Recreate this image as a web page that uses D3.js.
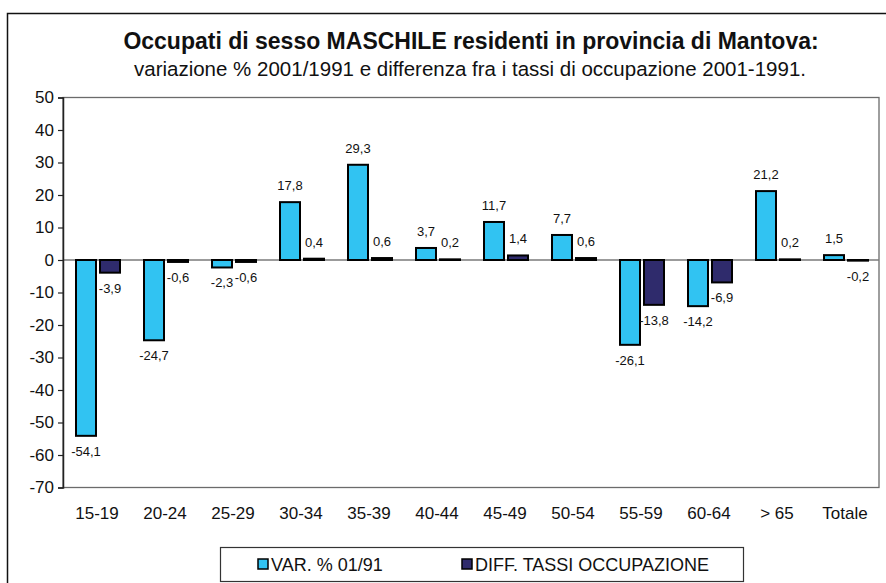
<!DOCTYPE html>
<html>
<head>
<meta charset="utf-8">
<script src="https://cdn.jsdelivr.net/npm/d3@7"></script>
<style>
  html, body { margin: 0; padding: 0; background: #fff; }
  svg { display: block; font-family: "Liberation Sans", Arial, Helvetica, sans-serif; }
</style>
</head>
<body>
<svg id="chart" width="886" height="583"></svg>
<script>
// Age classes on the x axis
const categories = ["15-19", "20-24", "25-29", "30-34", "35-39", "40-44", "45-49", "50-54", "55-59", "60-64", "> 65", "Totale"];
// Series: % change 2001/1991 and difference in employment rates
const seriesNames = ["VAR. % 01/91", "DIFF. TASSI OCCUPAZIONE"];
const varPct = [-54.1, -24.7, -2.3, 17.8, 29.3, 3.7, 11.7, 7.7, -26.1, -14.2, 21.2, 1.5];
const diffTassi = [-3.9, -0.6, -0.6, 0.4, 0.6, 0.2, 1.4, 0.6, -13.8, -6.9, 0.2, -0.2];
const yTicks = [50, 40, 30, 20, 10, 0, -10, -20, -30, -40, -50, -60, -70];
const colors = ["#31c3f2", "#2f2b6c"];

const svg = d3.select("#chart");

// outer frame
svg.append("rect")
  .attr("x", 7.5).attr("y", 13.5).attr("width", 900).attr("height", 600)
  .attr("fill", "none").attr("stroke", "#111").attr("stroke-width", 1.5);

// titles
svg.append("text")
  .attr("x", 471).attr("y", 49).attr("text-anchor", "middle")
  .attr("font-size", 23).attr("font-weight", "bold").attr("fill", "#111")
  .text("Occupati di sesso MASCHILE residenti in provincia di Mantova:");
svg.append("text")
  .attr("x", 470).attr("y", 76).attr("text-anchor", "middle")
  .attr("font-size", 20.5).attr("fill", "#111")
  .text("variazione % 2001/1991 e differenza fra i tassi di occupazione 2001-1991.");

const plot = { left: 63, right: 879, top: 97.5, bottom: 487.5 };

const y = d3.scaleLinear().domain([-70, 50]).range([plot.bottom, plot.top]);
const x0 = d3.scaleBand().domain(categories).range([plot.left, plot.right]);
const x1 = d3.scaleBand().domain(seriesNames).range([13, 57]).paddingInner(4 / 24);

// plot frame
svg.append("rect")
  .attr("x", plot.left).attr("y", plot.top)
  .attr("width", plot.right - plot.left).attr("height", plot.bottom - plot.top)
  .attr("fill", "none").attr("stroke", "#6b6b6b").attr("stroke-width", 1.3);

// zero line
svg.append("line")
  .attr("x1", plot.left).attr("x2", plot.right)
  .attr("y1", y(0)).attr("y2", y(0))
  .attr("stroke", "#7a7a7a").attr("stroke-width", 1.3);

// y axis
const yAxis = d3.axisLeft(y).tickValues(yTicks).tickSize(5).tickPadding(4)
  .tickFormat(d => String(d));
const gy = svg.append("g").attr("transform", `translate(${plot.left},0)`).call(yAxis);
gy.select(".domain").attr("stroke", "#222").attr("stroke-width", 1.5);
gy.selectAll(".tick line").attr("stroke", "#222").attr("stroke-width", 1.2);
gy.selectAll(".tick text").attr("font-size", 17).attr("fill", "#111")
  .attr("font-family", "'Liberation Sans', Arial, sans-serif");

// x axis labels
const xAxis = d3.axisBottom(x0).tickSize(0).tickPadding(0);
const gx = svg.append("g").attr("transform", `translate(0,${plot.bottom})`).call(xAxis);
gx.select(".domain").remove();
gx.selectAll(".tick text").attr("font-size", 17).attr("fill", "#111")
  .attr("dy", 0).attr("y", 31)
  .attr("font-family", "'Liberation Sans', Arial, sans-serif");

// bars
const rows = categories.map((c, i) => ({ cat: c, vals: [varPct[i], diffTassi[i]] }));
const groups = svg.append("g").selectAll("g").data(rows).join("g")
  .attr("transform", d => `translate(${x0(d.cat)},0)`);

groups.selectAll("rect")
  .data(d => d.vals.map((v, k) => ({ v, k })))
  .join("rect")
  .attr("x", d => x1(seriesNames[d.k]))
  .attr("width", x1.bandwidth())
  .attr("y", d => Math.min(y(d.v), y(0)))
  .attr("height", d => Math.abs(y(d.v) - y(0)))
  .attr("fill", d => colors[d.k])
  .attr("stroke", "#000").attr("stroke-width", 2);

// value labels
const fmt = v => String(v).replace(".", ",");
groups.selectAll("text.val")
  .data(d => d.vals.map((v, k) => ({ v, k })))
  .join("text").attr("class", "val")
  .attr("x", d => x1(seriesNames[d.k]) + x1.bandwidth() / 2)
  .attr("y", d => d.v >= 0 ? y(d.v) - 12 : y(d.v) + 20)
  .attr("text-anchor", "middle")
  .attr("font-size", 13).attr("fill", "#111")
  .text(d => fmt(d.v));

// legend
const lg = svg.append("g");
lg.append("rect")
  .attr("x", 220.5).attr("y", 547.5).attr("width", 523).attr("height", 34)
  .attr("fill", "#fff").attr("stroke", "#333").attr("stroke-width", 1.2);
const legendX = [258, 462];
seriesNames.forEach((name, k) => {
  lg.append("rect")
    .attr("x", legendX[k]).attr("y", 559).attr("width", 10).attr("height", 10)
    .attr("fill", colors[k]).attr("stroke", "#000").attr("stroke-width", 1.5);
  lg.append("text")
    .attr("x", legendX[k] + 13).attr("y", 570.5)
    .attr("font-size", 18).attr("fill", "#111")
    .text(name);
});
</script>
</body>
</html>
